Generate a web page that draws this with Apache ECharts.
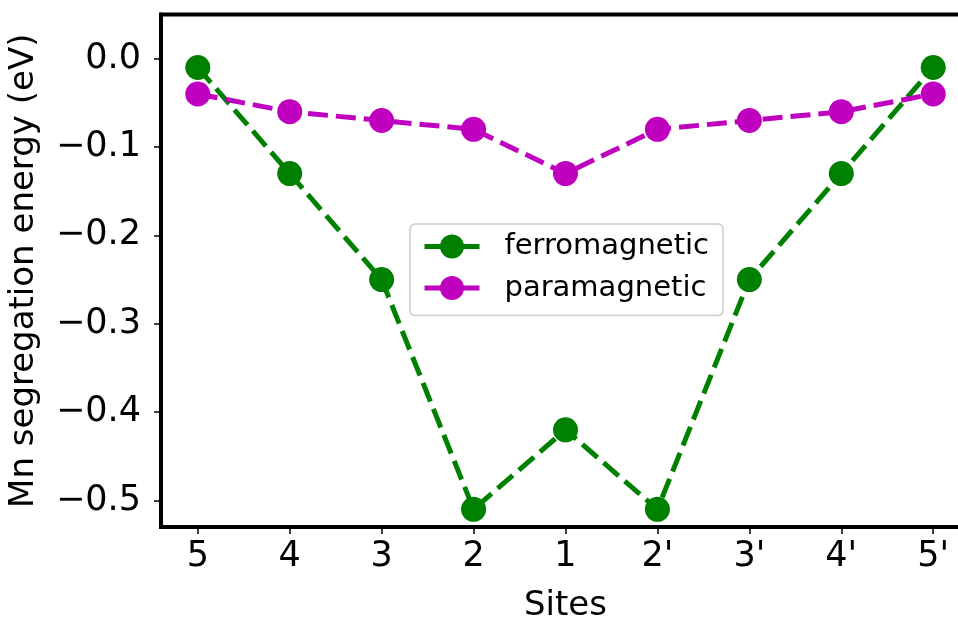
<!DOCTYPE html>
<html>
<head>
<meta charset="utf-8">
<script src="https://cdn.jsdelivr.net/npm/echarts@6/dist/echarts.min.js"></script>
<style>
  html, body { margin: 0; padding: 0; background: #fff; }
  #chart { width: 958px; height: 617px; }
</style>
</head>
<body>
<div id="chart"></div>
<script>
// Site labels along the segregation path (positions 0..8 on the x axis)
const sites = ['5', '4', '3', '2', '1', "2'", "3'", "4'", "5'"];
// Mn segregation energies (eV) per site
const ferromagnetic = [-0.01, -0.13, -0.25, -0.51, -0.42, -0.51, -0.25, -0.13, -0.01];
const paramagnetic = [-0.04, -0.06, -0.07, -0.08, -0.13, -0.08, -0.07, -0.06, -0.04];
const yTicks = [-0.5, -0.4, -0.3, -0.2, -0.1, 0.0];

const FONT = 'DejaVu Sans';
const GREEN = '#008000';
const MAGENTA = '#bf00bf';

const toPairs = vals => vals.map((v, i) => [i, v]);
const fmtY = v => {
  const s = Math.abs(v).toFixed(1);
  return v < -1e-9 ? '\u2212' + s : s;
};

const chart = echarts.init(document.getElementById('chart'), null, { renderer: 'canvas' });

const lineSeries = (name, vals, color) => ({
  name,
  type: 'line',
  data: toPairs(vals),
  symbol: 'circle',
  symbolSize: 25,
  showSymbol: true,
  itemStyle: { color },
  lineStyle: { color, width: 5, type: [20, 8] },
  emphasis: { disabled: true },
  animation: false
});

chart.setOption({
  animation: false,
  backgroundColor: '#fff',
  grid: {
    left: 161, top: 14.5, bottom: 90, right: -12,
    containLabel: false,
    outerBoundsMode: 'none',
    show: true, borderColor: '#000', borderWidth: 4, backgroundColor: 'transparent'
  },
  xAxis: {
    type: 'value',
    min: -0.4, max: 8.4,
    splitLine: { show: false },
    axisLine: { show: true, onZero: false, lineStyle: { color: '#000', width: 4 } },
    axisTick: { show: true, length: 7, lineStyle: { color: '#000', width: 1.5 }, customValues: sites.map((s, i) => i) },
    axisLabel: {
      customValues: sites.map((s, i) => i),
      formatter: v => sites[Math.round(v)],
      fontFamily: FONT, fontSize: 35, color: '#000', margin: 12
    },
    name: 'Sites',
    nameLocation: 'middle',
    nameGap: 62,
    nameTextStyle: { fontFamily: FONT, fontSize: 34, color: '#000' }
  },
  yAxis: {
    type: 'value',
    min: -0.53, max: 0.05,
    splitLine: { show: false },
    axisLine: { show: true, onZero: false, lineStyle: { color: '#000', width: 4 } },
    axisTick: { show: true, length: 7, lineStyle: { color: '#000', width: 1.5 }, customValues: yTicks },
    axisLabel: {
      customValues: yTicks,
      formatter: fmtY,
      fontFamily: FONT, fontSize: 35, color: '#000', margin: 20
    },
    name: 'Mn segregation energy (eV)',
    nameLocation: 'middle',
    nameGap: 120,
    nameTextStyle: { fontFamily: FONT, fontSize: 34, color: '#000' }
  },
  legend: {
    left: 410, top: 224,
    orient: 'vertical',
    data: ['ferromagnetic', 'paramagnetic'],
    itemWidth: 55, itemHeight: 30, itemGap: 12.6,
    padding: [8, 14, 13, 12],
    backgroundColor: 'rgba(255,255,255,0.8)',
    borderColor: '#cccccc', borderWidth: 1.5, borderRadius: 5,
    lineStyle: { type: 'solid', width: 5 },
    textStyle: { fontFamily: FONT, fontSize: 29, color: '#000', padding: [0, 0, 0, 20] },
    selectedMode: false
  },
  series: [
    lineSeries('ferromagnetic', ferromagnetic, GREEN),
    lineSeries('paramagnetic', paramagnetic, MAGENTA)
  ]
});
</script>
</body>
</html>
